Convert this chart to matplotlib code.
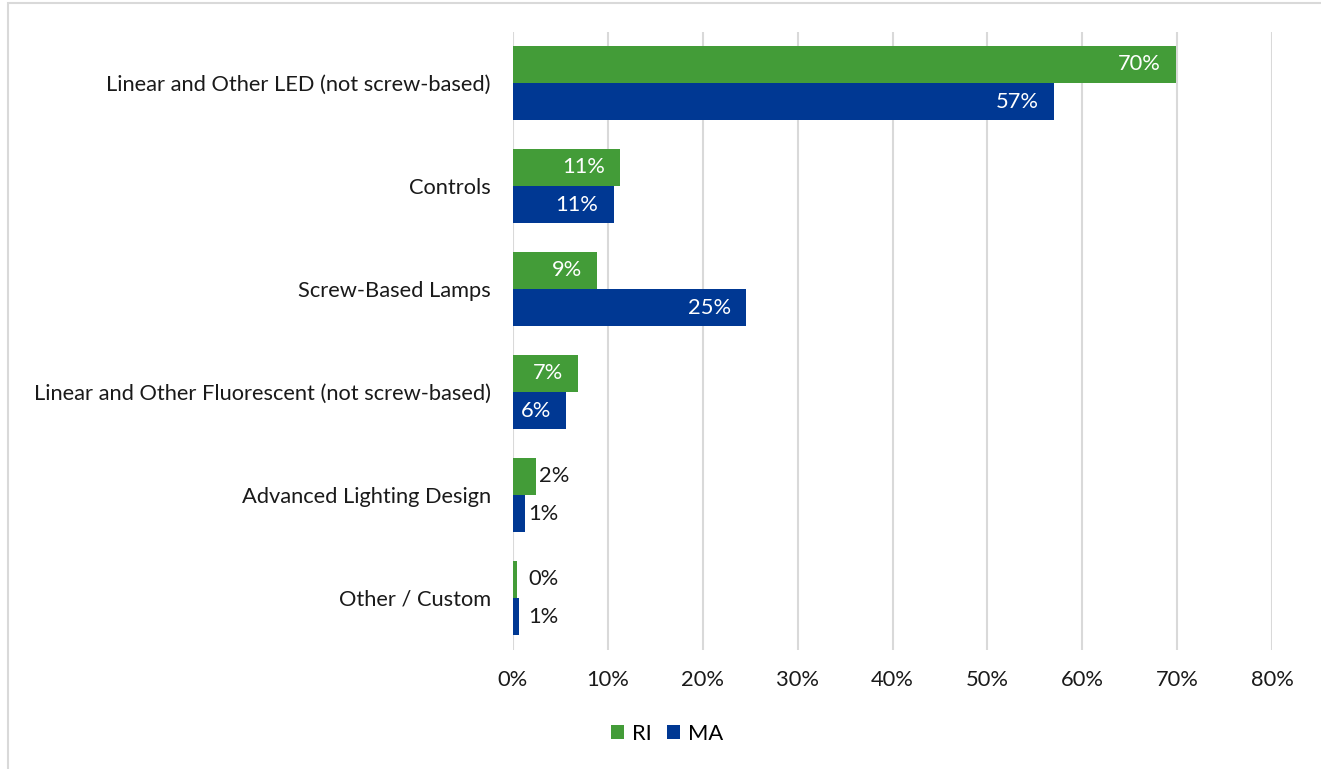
import numpy as np
import matplotlib.pyplot as plt
from matplotlib.patches import Rectangle
from matplotlib.ticker import FuncFormatter

# Share of installed measures by lighting category
categories = [
    "Linear and Other LED (not screw-based)",
    "Controls",
    "Screw-Based Lamps",
    "Linear and Other Fluorescent (not screw-based)",
    "Advanced Lighting Design",
    "Other / Custom",
]
ri_values = [69.9, 11.3, 8.9, 6.9, 2.4, 0.4]
ma_values = [57.0, 10.6, 24.6, 5.6, 1.3, 0.6]
x_ticks = [0, 10, 20, 30, 40, 50, 60, 70, 80]

green = "#439C38"
blue = "#003893"
grid_grey = "#D9D9D9"
fs = 15.75

plt.rcParams["font.family"] = ["Lato", "DejaVu Sans"]

fig = plt.figure(figsize=(13.21, 7.69), dpi=100)
ax = fig.add_axes([513 / 1321, 1 - 649.5 / 769, (1272 - 513) / 1321, (649.5 - 31.5) / 769])

y = np.arange(len(categories))
h = 0.36
ri_bars = ax.barh(y - h / 2, ri_values, height=h, color=green, label="RI", zorder=3)
ma_bars = ax.barh(y + h / 2, ma_values, height=h, color=blue, label="MA", zorder=3)

# Value labels: inside the bar end for wide bars, just outside for narrow ones
for bars, vals in [(ri_bars, ri_values), (ma_bars, ma_values)]:
    for bar, v in zip(bars, vals):
        yc = bar.get_y() + bar.get_height() / 2
        txt = f"{v:.0f}%"
        if v > 4:
            ax.annotate(txt, (v, yc), xytext=(-11, 0), textcoords="offset points",
                        ha="right", va="center", color="white", fontsize=fs, zorder=4)
        else:
            ax.annotate(txt, (max(v, 1.3), yc), xytext=(2, 0), textcoords="offset points",
                        ha="left", va="center", color="#1a1a1a", fontsize=fs, zorder=4)

ax.set_xlim(0, 80)
ax.set_ylim(len(categories) - 0.5, -0.5)
ax.set_xticks(x_ticks)
ax.xaxis.set_major_formatter(FuncFormatter(lambda v, p: f"{v:.0f}%"))
ax.set_yticks(y)
ax.set_yticklabels(categories)

for s in ["top", "bottom", "left", "right"]:
    ax.spines[s].set_visible(False)

ax.tick_params(axis="both", length=0, labelsize=fs, labelcolor="#1a1a1a")
ax.tick_params(axis="x", pad=15)
ax.tick_params(axis="y", pad=16)

ax.grid(axis="x", color=grid_grey, linewidth=1.5, zorder=0)
ax.set_axisbelow(True)

fig.legend(handles=[ri_bars, ma_bars], labels=["RI", "MA"], loc="center",
           bbox_to_anchor=(667 / 1321, 1 - 734 / 769), ncol=2, frameon=False,
           fontsize=fs, handlelength=0.6, handleheight=0.6, handletextpad=0.35,
           columnspacing=0.7)

# Chart area border
fig.patches.append(Rectangle((8 / 1321, -0.1), 1.2, 1.1 - 3 / 769,
                             transform=fig.transFigure, fill=False,
                             edgecolor=grid_grey, linewidth=1.5))

fig.savefig("out.png", dpi=100)
